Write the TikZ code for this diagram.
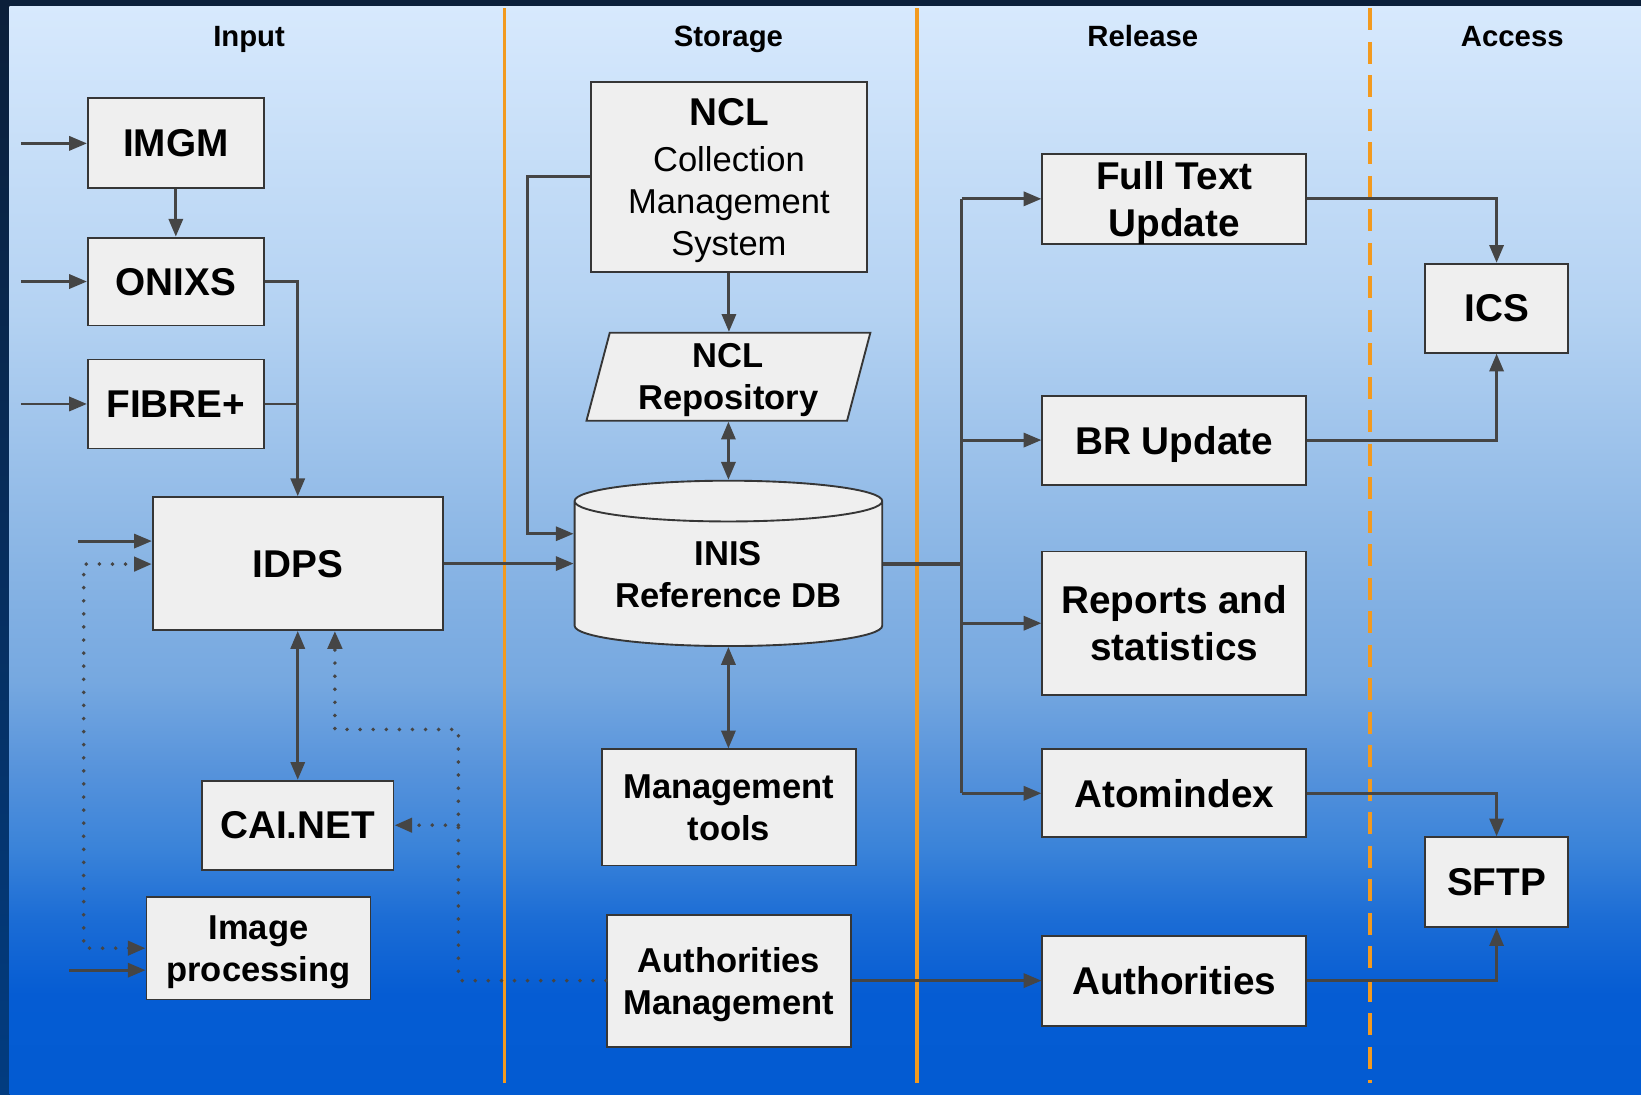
\documentclass[tikz,border=0pt]{standalone}
\usepackage{fontspec}
\setmainfont{Liberation Sans}
\usetikzlibrary{arrows.meta,shapes.geometric}
\definecolor{boxfill}{HTML}{EFEFEF}
\definecolor{boxline}{HTML}{363636}
\definecolor{wirecol}{HTML}{454545}
\definecolor{sepcol}{HTML}{F29A1F}
\definecolor{framecol}{HTML}{0B1F3A}
\definecolor{stripcol}{HTML}{023C80}
\definecolor{bga}{HTML}{D7E9FD}
\definecolor{bgb}{HTML}{B4D2F2}
\definecolor{bgc}{HTML}{88B4E4}
\definecolor{bgd}{HTML}{76A8E0}
\definecolor{bge}{HTML}{5592DB}
\definecolor{bgf}{HTML}{3A83D9}
\definecolor{bgg}{HTML}{1B6CD5}
\definecolor{bgh}{HTML}{055CD3}
\definecolor{bgi}{HTML}{025BD2}
\pgfdeclareverticalshading{panelbg}{100bp}{color(0bp)=(bgi); color(25bp)=(bgi);
  color(29.6bp)=(bgh); color(33bp)=(bgg); color(36.3bp)=(bgf); color(39.7bp)=(bge);
  color(44bp)=(bgd); color(49.3bp)=(bgc); color(60.9bp)=(bgb); color(75bp)=(bga); color(100bp)=(bga)}
\begin{document}
\begin{tikzpicture}[x=1pt,y=1pt,
  >={Triangle[length=17pt,width=13.5pt]},
  box/.style={draw=boxline,fill=boxfill,line width=1.8pt,inner sep=0pt,align=center,text depth=0pt,
    font=\bfseries\fontsize{37}{45}\selectfont},
  smallbox/.style={box,font=\bfseries\fontsize{33}{40}\selectfont},
  head/.style={inner sep=0pt,anchor=base,font=\bfseries\fontsize{28}{34}\selectfont},
  line/.style={draw=wirecol,line width=2.8pt},
  flow/.style={line,->},
  dots/.style={draw=wirecol,line width=3.8pt,line cap=round,dash pattern=on 0pt off 12.5pt},
  sep/.style={draw=sepcol,line width=3.5pt}]
\useasboundingbox (0,0) rectangle (1568,-1046);
\fill[framecol] (0,0) rectangle (1568,-6);
\fill[top color=framecol,bottom color=stripcol] (0,-6) rectangle (9,-1046);
\fill[shading=panelbg] (9,-6) rectangle (1568,-1046);
\draw[sep] (482,-8) -- (482,-1035);
\draw[sep] (876,-8) -- (876,-1035);
\draw[sep,dash pattern=on 21pt off 11pt] (1309,-8) -- (1309,-1035);
\node[head] (hinput) at (238,-44) {Input};
\node[head] (hstorage) at (696,-44) {Storage};
\node[head] (hrelease) at (1092,-44) {Release};
\node[head] (haccess) at (1445,-44) {Access};
\node[box,minimum width=168,minimum height=86] (imgm) at (168,-137) {IMGM};
\node[box,minimum width=168,minimum height=84] (onixs) at (168,-269) {ONIXS};
\node[box,minimum width=168,minimum height=85] (fibre) at (168,-386) {FIBRE+};
\node[box,minimum width=277,minimum height=127] (idps) at (284.5,-538.5) {IDPS};
\node[box,minimum width=183,minimum height=85] (cai) at (284.5,-788.5) {CAI.NET};
\node[smallbox,minimum width=214,minimum height=98] (imgproc) at (247,-906) {Image\\processing};
\node[box,font=\fontsize{33}{40}\selectfont,minimum width=263,minimum height=182] (cms) at (696.5,-169)
  {{\bfseries\fontsize{37}{40}\selectfont NCL}\\[4pt]Collection\\Management\\System};
\node[smallbox,trapezium,trapezium left angle=75,trapezium right angle=105,trapezium stretches=true,
  minimum width=272,minimum height=84] (repo) at (696,-360) {NCL\\Repository};
\node[smallbox,cylinder,shape border rotate=90,aspect=0.18,minimum width=294,minimum height=158]
  (inis) at (696,-548.5) {INIS\\Reference DB};
\node[smallbox,minimum width=243,minimum height=111] (mgmt) at (696.5,-771.5) {Management\\tools};
\node[smallbox,minimum width=233,minimum height=126] (authmgmt) at (696.5,-937) {Authorities\\Management};
\node[box,minimum width=252,minimum height=86] (fulltext) at (1122,-190) {Full Text\\Update};
\node[box,minimum width=252,minimum height=85] (brupd) at (1122,-420.5) {BR Update};
\node[box,minimum width=252,minimum height=137] (reports) at (1122,-595.5) {Reports and\\statistics};
\node[box,minimum width=252,minimum height=84] (atomindex) at (1122,-758) {Atomindex};
\node[box,minimum width=252,minimum height=86] (authorities) at (1122,-937) {Authorities};
\node[box,minimum width=136,minimum height=85] (ics) at (1430,-294.5) {ICS};
\node[box,minimum width=136,minimum height=86] (sftp) at (1430,-843) {SFTP};
\coordinate (inimgm) at (20,-137);
\coordinate (inonixs) at (20,-269);
\coordinate (infibre) at (20,-386);
\coordinate (inidps) at (75,-517);
\coordinate (inimg) at (66,-927);
\coordinate (dotleft) at (80,-539);
\coordinate (dotturn) at (438,-697);
\coordinate (dotup) at (320,-697);
\coordinate (cmsturn) at (504,-510);
\coordinate (bus) at (919,-539);
\draw[flow] (inimgm) -- (imgm);
\draw[flow] (inonixs) -- (onixs);
\draw[flow] (infibre) -- (fibre);
\draw[flow] (imgm) -- (onixs);
\draw[flow] (onixs.east) -| (idps.north);
\draw[line] (fibre.east) -- (fibre.east -| idps.north);
\draw[flow] (inidps) -- (inidps -| idps.west);
\draw[flow] (inimg) -- (inimg -| imgproc.west);
\draw[dots,<->] (imgproc.west) -| (dotleft) -- (dotleft -| idps.west);
\draw[flow,<->] (idps.south) -- (cai.north);
\draw[dots,->] (authmgmt.west) -| (dotturn) -- (dotup) -- (dotup |- idps.south);
\draw[dots,->] (dotturn |- cai.east) -- (cai.east);
\draw[flow] (idps.east) -- (idps.east -| inis.180);
\draw[flow] (cms.west) -| (cmsturn) -- (cmsturn -| inis.180);
\draw[flow] (cms.south) -- (cms.south |- repo.north);
\draw[flow,<->] (repo.south) -- (repo.south |- inis.90);
\draw[flow,<->] (inis.270) -- (inis.270 |- mgmt.north);
\draw[draw=wirecol,line width=4pt] (bus -| inis.0) -- (bus);
\draw[line] (bus |- fulltext.west) -- (bus |- atomindex.west);
\draw[flow] (bus |- fulltext.west) -- (fulltext.west);
\draw[flow] (bus |- brupd.west) -- (brupd.west);
\draw[flow] (bus |- reports.west) -- (reports.west);
\draw[flow] (bus |- atomindex.west) -- (atomindex.west);
\draw[flow] (authmgmt.east) -- (authorities.west);
\draw[flow] (fulltext.east) -| (ics.north);
\draw[flow] (brupd.east) -| (ics.south);
\draw[flow] (atomindex.east) -| (sftp.north);
\draw[flow] (authorities.east) -| (sftp.south);
\end{tikzpicture}
\end{document}
